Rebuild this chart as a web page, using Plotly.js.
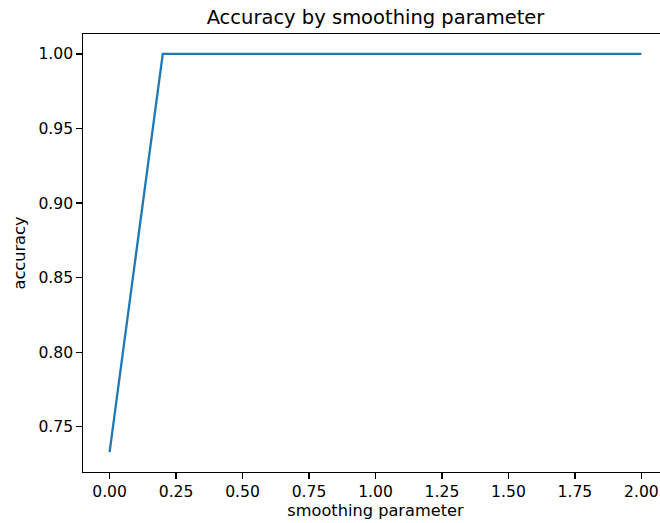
<!DOCTYPE html>
<html>
<head>
<meta charset="utf-8">
<script src="https://cdn.plot.ly/plotly-3.0.1.min.js"></script>
<style>
html,body{margin:0;padding:0;overflow:hidden;background:#fff;width:660px;height:523px;}
#chart{width:670px;height:523px;}
</style>
</head>
<body>
<div id="chart"></div>
<script>
const smoothing = [0.0, 0.2, 0.4, 0.6, 0.8, 1.0, 1.2, 1.4, 1.6, 1.8, 2.0];
const accuracy = [0.733, 1.0, 1.0, 1.0, 1.0, 1.0, 1.0, 1.0, 1.0, 1.0, 1.0];
const xTicks = [0, 0.25, 0.5, 0.75, 1.0, 1.25, 1.5, 1.75, 2.0];
const yTicks = [0.75, 0.80, 0.85, 0.90, 0.95, 1.00];

const tickFont = {family: 'DejaVu Sans, sans-serif', size: 15.6, color: '#000'};
const labelFont = {family: 'DejaVu Sans, sans-serif', size: 16.2, color: '#000'};

const axisCommon = {
  showline: true, mirror: true, linecolor: '#000', linewidth: 1.2,
  ticks: 'outside', ticklen: 5.5, tickwidth: 1.2, tickcolor: '#000',
  showgrid: false, zeroline: false, tickfont: tickFont
};

const trace = {
  x: smoothing, y: accuracy, type: 'scatter', mode: 'lines',
  line: {color: '#1f77b4', width: 2.3}
};

const layout = {
  width: 670, height: 523,
  margin: {l: 83, r: 2, t: 34, b: 51},
  paper_bgcolor: '#fff', plot_bgcolor: '#fff',
  font: tickFont,
  showlegend: false,
  title: {text: 'Accuracy by smoothing parameter', font: {family: 'DejaVu Sans, sans-serif', size: 19.5, color: '#000'}, x: 0.5604, xanchor: 'center', y: 0.967, yanchor: 'middle'},
  xaxis: Object.assign({}, axisCommon, {
    range: [-0.1, 2.1], tickvals: xTicks, tickformat: '.2f',
    title: {text: 'smoothing parameter', font: labelFont, standoff: 4}
  }),
  yaxis: Object.assign({}, axisCommon, {
    range: [0.71965, 1.01335], tickvals: yTicks, tickformat: '.2f',
    title: {text: 'accuracy', font: labelFont, standoff: 8}
  })
};

Plotly.newPlot('chart', [trace], layout, {displayModeBar: false, staticPlot: true});
</script>
</body>
</html>
